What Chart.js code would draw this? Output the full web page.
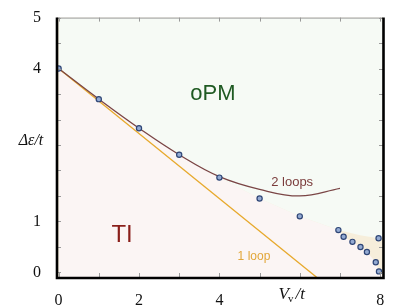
<!DOCTYPE html>
<html>
<head>
<meta charset="utf-8">
<script src="https://cdn.jsdelivr.net/npm/chart.js@4.4.1/dist/chart.umd.min.js"></script>
<style>
  html, body { margin: 0; padding: 0; background: #fff; }
  #wrap { width: 415px; height: 307px; }
</style>
</head>
<body>
<div id="wrap"><canvas id="myChart"></canvas></div>
<script>
// numerical points (V_v/t, Δε/t)
const dotX = [0, 1, 2, 3, 4, 5, 6, 6.96, 7.09, 7.31, 7.51, 7.67, 7.96, 7.89, 7.97];
const dotY = [4, 3.40, 2.83, 2.31, 1.86, 1.45, 1.10, 0.83, 0.70, 0.60, 0.50, 0.40, 0.67, 0.20, 0.02];

// 2 loops curve
const loop2X = [0, 1, 2, 3, 4, 5, 6, 7];
const loop2Y = [4, 3.40, 2.83, 2.31, 1.88, 1.63, 1.50, 1.65];

// 1 loop line
const loop1X = [0, 6.5];
const loop1Y = [4, -0.147];

// phase boundaries
const opmX = [0, 1, 2, 3, 4, 5, 6, 6.96, 7.5, 7.96, 8.1];
const opmY = [4, 3.40, 2.83, 2.31, 1.86, 1.45, 1.10, 0.83, 0.73, 0.67, 0.66];
const tiX = [0, 1, 2, 3, 4, 5, 6, 6.96, 7.09, 7.31, 7.51, 7.67, 7.89, 7.97, 8.1];
const tiY = [4, 3.40, 2.83, 2.31, 1.86, 1.45, 1.10, 0.83, 0.70, 0.60, 0.50, 0.40, 0.20, 0.02, -0.1];

// axes
const xLabelVals = [0, 2, 4, 8];
const yLabelVals = [0, 1, 4, 5];
const xTickVals = [0, 1, 2, 3, 4, 5, 6, 7, 8];
const yTickVals = [0, 0.5, 1, 1.5, 2, 2.5, 3, 3.5, 4, 4.5, 5];

// labels inside the plot
const noteText = ['oPM', 'TI', '2 loops', '1 loop'];
const noteX = [3.84, 1.58, 5.81, 4.86];
const noteY = [3.51, 0.72, 1.76, 0.31];

const toXY = (xs, ys) => xs.map((x, i) => ({ x: x, y: ys[i] }));

const noteStyle = [
    { font: '22px "Liberation Sans"', color: '#1f5a22' },
    { font: '24px "Liberation Sans"', color: '#8a1f1a' },
    { font: '13px "Liberation Sans"', color: '#7a3b3b' },
    { font: '12px "Liberation Sans"', color: '#e2a73a' }
];

const decorations = {
    id: 'decorations',
    beforeDraw(chart) {
        const { ctx, chartArea: a } = chart;
        ctx.save();
        ctx.fillStyle = '#f6eedb';
        ctx.fillRect(a.left, a.top, a.right - a.left, a.bottom - a.top);
        ctx.restore();
    },
    afterDatasetsDraw(chart) {
        const { ctx, chartArea: a, scales } = chart;
        const xs = scales.x, ys = scales.y;
        ctx.save();
        // inward ticks
        ctx.strokeStyle = '#9a9a9a';
        ctx.lineWidth = 1;
        ctx.beginPath();
        xTickVals.forEach(v => {
            const px = Math.round(xs.getPixelForValue(v)) + 0.5;
            ctx.moveTo(px, a.bottom); ctx.lineTo(px, a.bottom - 4);
            ctx.moveTo(px, a.top); ctx.lineTo(px, a.top + 4);
        });
        yTickVals.forEach(v => {
            const py = Math.round(ys.getPixelForValue(v)) + 0.5;
            ctx.moveTo(a.left, py); ctx.lineTo(a.left + 4, py);
            ctx.moveTo(a.right, py); ctx.lineTo(a.right - 4, py);
        });
        ctx.stroke();

        // text labels
        ctx.textAlign = 'center';
        ctx.textBaseline = 'middle';
        noteText.forEach((t, i) => {
            ctx.font = noteStyle[i].font;
            ctx.fillStyle = noteStyle[i].color;
            ctx.fillText(t, xs.getPixelForValue(noteX[i]), ys.getPixelForValue(noteY[i]));
        });
        ctx.restore();
    },
    afterDraw(chart) {
        const { ctx, chartArea: a, scales } = chart;
        ctx.save();
        // frame
        ctx.strokeStyle = '#9a9a9a';
        ctx.lineWidth = 1;
        ctx.beginPath();
        ctx.moveTo(a.left, a.top + 0.5); ctx.lineTo(a.right, a.top + 0.5);
        ctx.stroke();
        ctx.strokeStyle = '#000';
        ctx.lineWidth = 2.6;
        ctx.beginPath();
        ctx.moveTo(a.left, a.top);
        ctx.lineTo(a.left, a.bottom + 1);
        ctx.lineTo(a.right + 0.5, a.bottom + 1);
        ctx.lineTo(a.right + 0.5, a.top);
        ctx.stroke();

        // axis titles
        ctx.fillStyle = '#111';
        ctx.textBaseline = 'middle';
        ctx.textAlign = 'center';
        ctx.font = 'italic 16px "Liberation Serif"';
        ctx.fillText('\u0394\u03b5/t', 31, scales.y.getPixelForValue(2.58));

        const cx = scales.x.getPixelForValue(5.8), cy = 295;
        ctx.textAlign = 'left';
        ctx.font = 'italic 17px "Liberation Serif"';
        const wV = ctx.measureText('V').width;
        ctx.font = '11px "Liberation Serif"';
        const wv = ctx.measureText('v').width;
        ctx.font = 'italic 17px "Liberation Serif"';
        const wT = ctx.measureText('/t').width;
        let x0 = cx - (wV + wv + 1 + wT) / 2;
        ctx.fillText('V', x0, cy);
        ctx.font = '11px "Liberation Serif"';
        ctx.fillText('v', x0 + wV - 1, cy + 4);
        ctx.font = 'italic 17px "Liberation Serif"';
        ctx.fillText('/t', x0 + wV + wv + 1, cy);
        ctx.restore();
    }
};

const config = {
    type: 'scatter',
    data: {
        datasets: [
            {
                label: 'points',
                data: toXY(dotX, dotY),
                pointRadius: 2.6,
                pointBackgroundColor: '#93aad2',
                pointBorderColor: '#2f4676',
                pointBorderWidth: 1.2,
                showLine: false,
                order: 0
            },
            {
                label: '2 loops',
                data: toXY(loop2X, loop2Y),
                showLine: true,
                borderColor: '#7a4545',
                borderWidth: 1.3,
                pointRadius: 0,
                tension: 0.4,
                order: 1
            },
            {
                label: '1 loop',
                data: toXY(loop1X, loop1Y),
                showLine: true,
                borderColor: '#e7a92c',
                borderWidth: 1.3,
                pointRadius: 0,
                order: 1
            },
            {
                label: 'oPM',
                data: toXY(opmX, opmY),
                showLine: true,
                borderWidth: 0,
                pointRadius: 0,
                fill: 'end',
                backgroundColor: '#f6faf5',
                order: 3
            },
            {
                label: 'TI',
                data: toXY(tiX, tiY),
                showLine: true,
                borderWidth: 0,
                pointRadius: 0,
                fill: 'start',
                backgroundColor: '#fbf5f4',
                order: 3
            }
        ]
    },
    options: {
        responsive: false,
        animation: false,
        layout: { padding: { top: 13, right: 32, left: 0, bottom: 0 } },
        plugins: {
            legend: { display: false },
            tooltip: { enabled: false }
        },
        scales: {
            x: {
                type: 'linear',
                min: -0.04,
                max: 8.07,
                grid: { display: false },
                border: { display: false },
                afterBuildTicks: (s) => { s.ticks = xLabelVals.map(v => ({ value: v })); },
                afterFit: (s) => { s.height = 30; },
                ticks: {
                    padding: 6,
                    maxRotation: 0,
                    autoSkip: false,
                    color: '#111',
                    font: { family: '"Liberation Serif"', size: 16 },
                    callback: (v) => String(v)
                }
            },
            y: {
                type: 'linear',
                min: -0.09,
                max: 5,
                grid: { display: false },
                border: { display: false },
                afterBuildTicks: (s) => { s.ticks = yLabelVals.map(v => ({ value: v })); },
                afterFit: (s) => { s.width = 57; },
                ticks: {
                    padding: 8,
                    autoSkip: false,
                    color: '#111',
                    font: { family: '"Liberation Serif"', size: 16 },
                    callback: (v) => String(v)
                }
            }
        }
    },
    plugins: [decorations]
};

const canvas = document.getElementById('myChart');
canvas.width = 415;
canvas.height = 307;
const myChart = new Chart(canvas, config);
</script>
</body>
</html>
